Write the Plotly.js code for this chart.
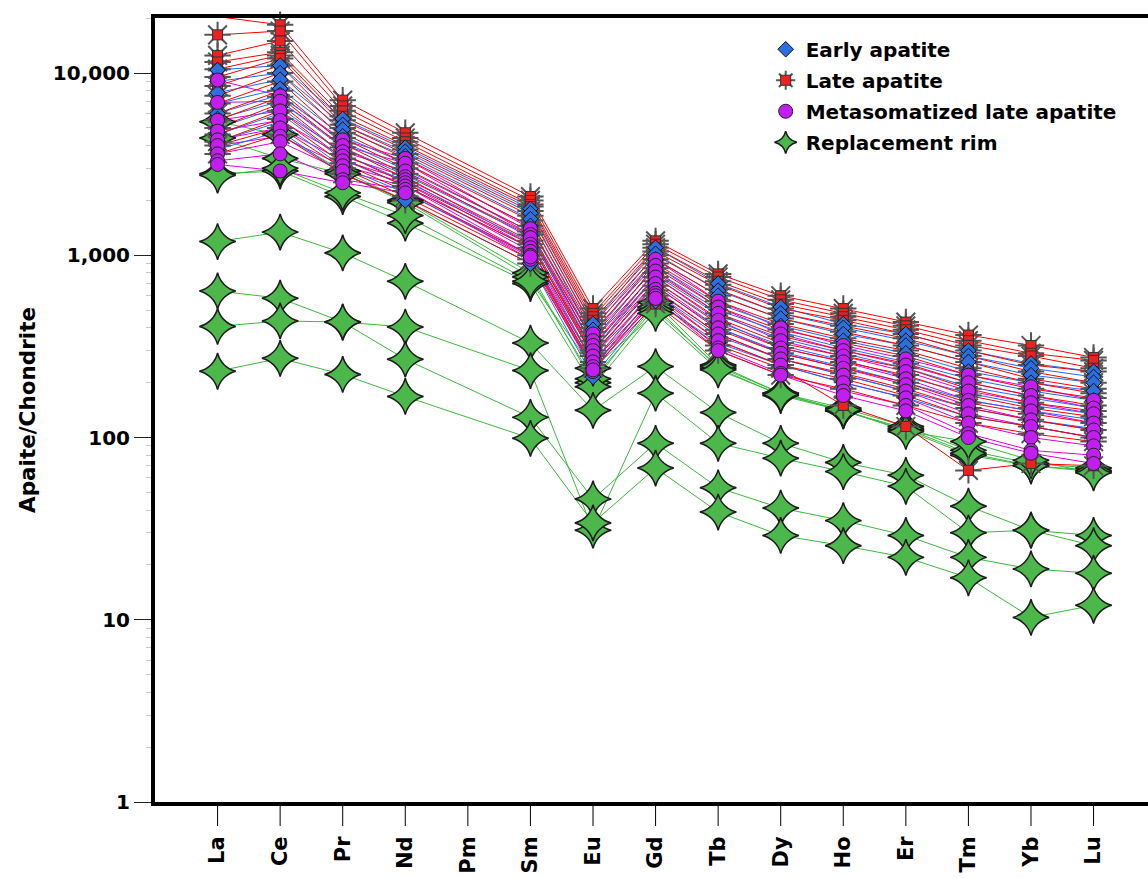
<!DOCTYPE html>
<html>
<head>
<meta charset="utf-8">
<script src="https://cdn.plot.ly/plotly-3.0.1.min.js"></script>
<style>html,body{margin:0;padding:0;background:#fff;}#chart{width:1148px;height:878px;}</style>
</head>
<body>
<div id="chart"></div>
<script>
// REE categories (Pm has no data)
const elements = ['La','Ce','Pr','Nd','Pm','Sm','Eu','Gd','Tb','Dy','Ho','Er','Tm','Yb','Lu'];
const measured = ['La','Ce','Pr','Nd','Sm','Eu','Gd','Tb','Dy','Ho','Er','Tm','Yb','Lu'];

const yTickVals = [1, 10, 100, 1000, 10000];
const yTickText = ['1', '10', '100', '1,000', '10,000'];
const yMinorVals = [2,3,4,5,6,7,8,9,20,30,40,50,60,70,80,90,200,300,400,500,600,700,800,900,
                    2000,3000,4000,5000,6000,7000,8000,9000,20000];

// Early apatite (chondrite-normalised)
const earlyApatite = [
  [10400, 11000, 5600, 3900, 1800, 420, 1100, 700, 520, 420, 370, 300, 255, 230],
  [9000, 10000, 5200, 3700, 1700, 390, 1020, 640, 480, 400, 340, 280, 240, 215],
  [7800, 9200, 4900, 3500, 1580, 360, 950, 600, 450, 370, 320, 260, 220, 200],
  [6800, 8200, 4500, 3200, 1450, 340, 880, 540, 410, 340, 290, 230, 200, 180],
  [6000, 7600, 4200, 2950, 1350, 310, 820, 500, 380, 310, 260, 210, 180, 160],
  [5600, 7000, 3900, 2750, 1280, 300, 780, 470, 350, 290, 240, 190, 165, 145],
  [5000, 6500, 3600, 2550, 1180, 280, 720, 430, 320, 265, 215, 175, 150, 135],
  [4600, 6000, 3350, 2400, 1100, 260, 670, 400, 295, 245, 200, 160, 140, 125],
  [4200, 5400, 3050, 2200, 1000, 240, 620, 360, 270, 220, 180, 145, 125, 112],
  [3800, 4800, 2800, 2000, 900, 215, 560, 330, 250, 200, 165, 130, 115, 100]
];

// Late apatite
const lateApatite = [
  [20400, 18400, 7100, 4700, 2100, 510, 1200, 790, 600, 510, 430, 365, 320, 275],
  [16200, 17000, 6600, 4400, 2000, 480, 1150, 760, 570, 480, 410, 340, 290, 265],
  [12500, 15000, 6200, 4200, 1900, 460, 1100, 720, 540, 460, 390, 320, 280, 240],
  [11500, 13000, 5800, 4000, 1850, 440, 1050, 690, 510, 440, 370, 300, 250, 230],
  [10500, 12500, 5500, 3800, 1750, 420, 1000, 650, 480, 410, 350, 280, 230, 200],
  [9500, 12000, 5200, 3600, 1650, 400, 950, 600, 450, 380, 320, 260, 210, 185],
  [8500, 11000, 5000, 3400, 1550, 380, 900, 560, 420, 350, 300, 240, 200, 175],
  [7500, 10000, 4700, 3200, 1450, 360, 850, 520, 390, 330, 280, 220, 185, 165],
  [6800, 9000, 4400, 3000, 1350, 340, 800, 480, 360, 300, 255, 200, 170, 150],
  [6000, 8000, 4100, 2800, 1300, 320, 760, 450, 330, 280, 240, 185, 155, 140],
  [5500, 7400, 3900, 2650, 1200, 300, 720, 420, 310, 260, 220, 170, 145, 130],
  [5000, 6800, 3600, 2500, 1150, 290, 680, 390, 290, 240, 200, 155, 135, 120],
  [4600, 6200, 3400, 2400, 1100, 280, 640, 370, 270, 225, 185, 145, 125, 110],
  [4200, 5600, 3200, 2250, 1000, 260, 600, 340, 250, 210, 170, 130, 115, 100],
  [4000, 5000, 3000, 2100, 950, 250, 560, 320, 240, 150, 115, 66, 72, 70],
  [3600, 4600, 2800, 2000, 900, 240, 540, 300, 220, 185, 150, 120, 105, 95]
];

// Metasomatized late apatite
const metasomatizedApatite = [
  [9150, 7500, 4300, 3400, 1400, 370, 950, 560, 400, 320, 270, 220, 190, 160],
  [6900, 7000, 4000, 3200, 1300, 340, 880, 520, 370, 300, 250, 200, 170, 145],
  [5500, 6200, 3700, 2900, 1250, 320, 820, 480, 340, 280, 230, 180, 155, 135],
  [4800, 5500, 3500, 2700, 1150, 300, 760, 440, 310, 260, 210, 160, 140, 120],
  [4300, 5000, 3300, 2600, 1100, 280, 700, 400, 290, 240, 195, 150, 125, 110],
  [4000, 4500, 3100, 2500, 1050, 260, 650, 370, 270, 220, 180, 135, 115, 100],
  [3600, 4200, 2900, 2400, 1000, 245, 620, 340, 250, 200, 165, 120, 100, 90],
  [3300, 3600, 2600, 2300, 950, 230, 600, 310, 225, 180, 150, 105, 85, 80],
  [3150, 2900, 2500, 2200, 980, 235, 580, 300, 220, 170, 140, 100, 82, 72]
];

// Replacement rim
const replacementRim = [
  [5400, 4600, 2900, 2000, 800, 200, 550, 250, 175, 145, 115, 85, 72, 68],
  [4400, 3400, 2800, 1950, 760, 210, 520, 240, 170, 140, 110, 80, 70, 65],
  [2800, 2900, 2100, 1500, 700, 190, 500, 245, 175, 140, 112, 82, 70, 66],
  [2750, 3000, 2200, 1650, 720, 240, 480, 235, 172, 142, 108, 95, 75, 64],
  [1190, 1340, 1030, 720, 330, 141, 245, 137, 93, 73, 62, 42, 31, 29],
  [637, 581, 430, 404, 233, 31, 175, 93, 77, 65, 54, 30, 31, 25.5],
  [407, 436, 430, 269, 129, 46, 93, 53, 41, 35, 29, 22, 19, 18],
  [231, 272, 222, 168, 99, 34, 68, 39, 29, 25.5, 22, 17, 10.3, 12]
];

const FONT = 'DejaVu Sans, Arial, sans-serif';
const COLORS = {early: '#1a6cff', late: '#ff0000', meta: '#e000e6', rim: '#3cb93c'};
const traces = [];

function lineTrace(vals, color) {
  traces.push({
    type: 'scatter', mode: 'lines', x: measured, y: vals,
    line: {color: color, width: 1}, showlegend: false, hoverinfo: 'skip', cliponaxis: false
  });
}
function flatX(series) { const out = []; series.forEach(function () { measured.forEach(function (m) { out.push(m); }); }); return out; }
function flatY(series) { const out = []; series.forEach(function (v) { v.forEach(function (y) { out.push(y); }); }); return out; }

// lines: rim first, then magenta, then red and blue interleaved
replacementRim.forEach(function (v) { lineTrace(v, COLORS.rim); });
metasomatizedApatite.forEach(function (v) { lineTrace(v, COLORS.meta); });
const nMax = Math.max(lateApatite.length, earlyApatite.length);
for (let i = 0; i < nMax; i++) {
  if (lateApatite[i]) lineTrace(lateApatite[i], COLORS.late);
  if (earlyApatite[i]) lineTrace(earlyApatite[i], COLORS.early);
}

// marker layers
traces.push({
  type: 'scatter', mode: 'markers', name: 'Replacement rim', legendrank: 4, legendgroup: 'g4',
  x: flatX(replacementRim), y: flatY(replacementRim), cliponaxis: false,
  marker: {symbol: 'star-diamond', size: 26, color: '#4cb84c', line: {color: '#1c1c1c', width: 1.5}}
});
traces.push({
  type: 'scatter', mode: 'markers', name: 'Late apatite', legendrank: 2, legendgroup: 'g2',
  x: flatX(lateApatite), y: flatY(lateApatite), cliponaxis: false,
  marker: {symbol: 'asterisk-open', size: 22, color: '#555555', line: {color: '#555555', width: 2}}
});
traces.push({
  type: 'scatter', mode: 'markers', name: ' ', legend: 'legend2',
  x: flatX(lateApatite), y: flatY(lateApatite), cliponaxis: false,
  marker: {symbol: 'square', size: 10, color: '#ee2020', line: {color: '#333333', width: 1}}
});
traces.push({
  type: 'scatter', mode: 'markers', name: 'Early apatite', legendrank: 1, legendgroup: 'g1',
  x: flatX(earlyApatite), y: flatY(earlyApatite), cliponaxis: false,
  marker: {symbol: 'diamond', size: 12, color: '#2e6fe0', line: {color: '#111111', width: 1}}
});
traces.push({
  type: 'scatter', mode: 'markers', name: 'Metasomatized late apatite', legendrank: 3, legendgroup: 'g3',
  x: flatX(metasomatizedApatite), y: flatY(metasomatizedApatite), cliponaxis: false,
  marker: {symbol: 'circle', size: 14, color: '#c21ef0', line: {color: '#222222', width: 1}}
});

// visible x tick marks (the axis' own ticks are transparent so that labels sit lower)
const PLOT_H = 878 - 18 - 76;
const tickShapes = elements.map(function (e, i) {
  return {type: 'line', xref: 'x', yref: 'paper', x0: i, x1: i, y0: -2 / PLOT_H, y1: -24 / PLOT_H,
          line: {color: '#000000', width: 1}, layer: 'above'};
});

const layout = {
  width: 1148, height: 878,
  margin: {l: 155, r: 0, t: 18, b: 76},
  paper_bgcolor: '#ffffff', plot_bgcolor: '#ffffff',
  font: {family: FONT, size: 20, color: '#000000', weight: 700},
  showlegend: true,
  shapes: tickShapes,
  xaxis: {
    type: 'category', categoryorder: 'array', categoryarray: elements,
    tickvals: elements, ticktext: elements,
    range: [-1, 14.87], showgrid: false, zeroline: false,
    showline: true, linecolor: '#000000', linewidth: 4, mirror: true,
    ticks: 'outside', ticklen: 22, tickwidth: 1, tickcolor: 'rgba(0,0,0,0)',
    tickangle: -90, tickfont: {family: FONT, size: 21, weight: 700, color: '#000000'}
  },
  yaxis: {
    type: 'log', range: [0, 4.302], showgrid: false, zeroline: false,
    showline: true, linecolor: '#000000', linewidth: 4,
    tickmode: 'array', tickvals: yTickVals, ticktext: yTickText,
    ticks: 'outside', ticklen: 17, tickwidth: 1, tickcolor: '#222222',
    tickfont: {family: FONT, size: 20, weight: 700, color: '#000000'},
    minor: {tickmode: 'array', tickvals: yMinorVals, ticks: 'outside', ticklen: 5, tickwidth: 1, tickcolor: '#c8c8c8', showgrid: false},
    title: {text: 'Apaite/Chondrite', standoff: 12, font: {family: FONT, size: 21.5, weight: 700, color: '#000000'}}
  },
  legend: {
    x: 0.615, y: 0.985, xanchor: 'left', yanchor: 'top',
    bgcolor: 'rgba(0,0,0,0)', borderwidth: 0, tracegroupgap: 2,
    font: {family: FONT, size: 20, weight: 700, color: '#000000'}
  },
  legend2: {
    x: 0.615, y: 0.9455, xanchor: 'left', yanchor: 'top',
    bgcolor: 'rgba(0,0,0,0)', borderwidth: 0,
    font: {family: FONT, size: 20, weight: 700, color: '#000000'}
  }
};

Plotly.newPlot('chart', traces, layout, {displayModeBar: false, staticPlot: true});
</script>
</body>
</html>
